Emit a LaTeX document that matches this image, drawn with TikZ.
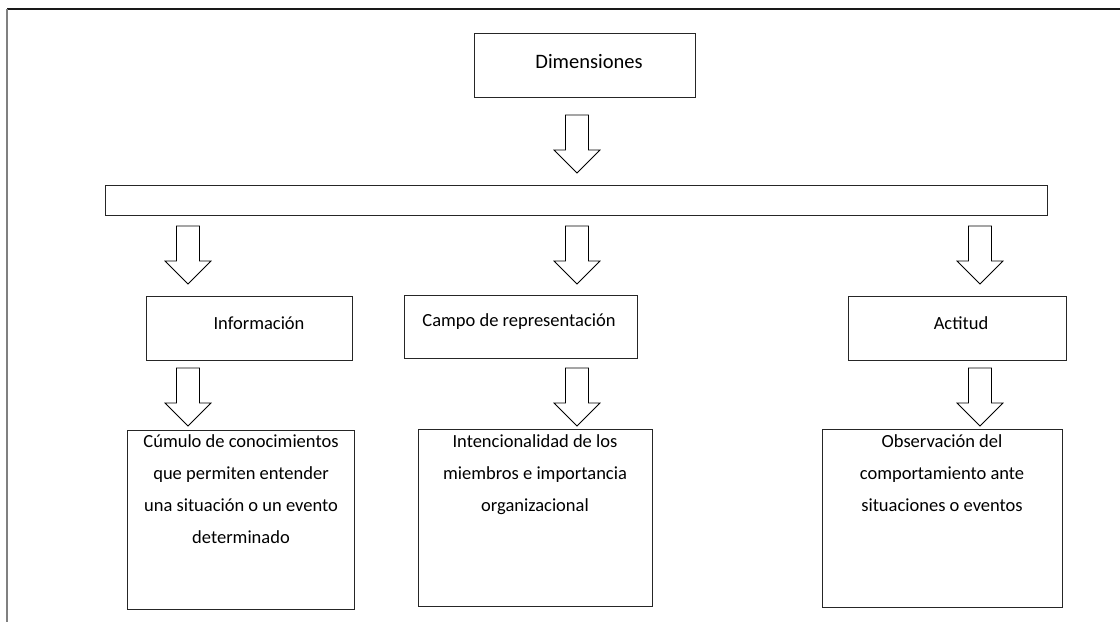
\documentclass[tikz,border=0pt]{standalone}
\usepackage{fontspec}
\setmainfont{Carlito}
\begin{document}
\begin{tikzpicture}[x=1pt,y=-1pt,
  box/.style={draw=black!85,line width=0.9pt,inner sep=0pt,anchor=north west},
  lbl/.style={font=\fontsize{18.5}{32}\selectfont,align=center,inner sep=0pt},
  barrow/.pic={\draw[black,line width=0.8pt,fill=white] (-11.5,0) -- (11.5,0) -- (11.5,35) -- (23,35) -- (0,58) -- (-23,35) -- (-11.5,35) -- cycle;}]
\useasboundingbox (0,0) rectangle (1120,622);
% frame
\draw[black!90,line width=1.3pt] (7,9) -- (1120,9);
\draw[black!50,line width=1.6pt] (7,9) -- (7,622);
% top box
\node[box,minimum width=221pt,minimum height=64pt] (dim) at (474,33) {};
\node[lbl,font=\fontsize{20.5}{32}\selectfont] (dimt) at (589,62) {Dimensiones};
\pic at (577,115) {barrow};
% bar
\node[box,minimum width=942pt,minimum height=30pt] (bar) at (105,185) {};
\pic at (188,226) {barrow};
\pic at (577,226) {barrow};
\pic at (980,226) {barrow};
% row 2
\node[box,minimum width=206pt,minimum height=64pt] (inf) at (146,296) {};
\node[lbl] (inft) at (259,323) {Información};
\node[box,minimum width=233pt,minimum height=63pt] (cam) at (404,295) {};
\node[lbl] (camt) at (519,322) {Campo de representación};
\node[box,minimum width=218pt,minimum height=64pt] (act) at (848,296) {};
\node[lbl] (actt) at (961,323) {Actitud};
\pic at (188,368) {barrow};
\pic at (577,368) {barrow};
\pic at (980,368) {barrow};
% row 3
\node[box,minimum width=227pt,minimum height=179pt] (b1) at (127,430) {};
\node[lbl,anchor=north] (b1t) at (241,434) {Cúmulo de conocimientos\\que permiten entender\\una situación o un evento\\determinado};
\node[box,minimum width=234pt,minimum height=177pt] (b2) at (418,429) {};
\node[lbl,anchor=north] (b2t) at (535,434) {Intencionalidad de los\\miembros e importancia\\organizacional};
\node[box,minimum width=240pt,minimum height=178pt] (b3) at (822,429) {};
\node[lbl,anchor=north] (b3t) at (942,434) {Observación del\\comportamiento ante\\situaciones o eventos};
\end{tikzpicture}
\end{document}
